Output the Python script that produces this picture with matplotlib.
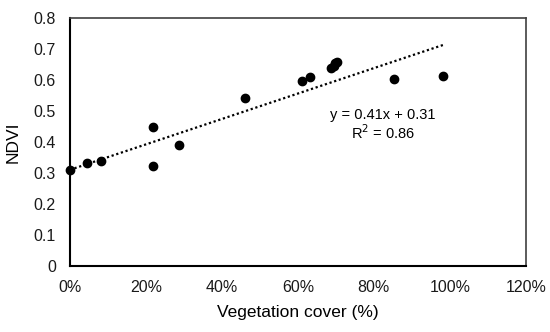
import numpy as np
import matplotlib.pyplot as plt
from matplotlib.ticker import PercentFormatter

plt.rcParams['font.family'] = ['Liberation Sans', 'DejaVu Sans']

# vegetation cover (fraction) and NDVI for each site
cover = [0.0, 0.045, 0.082, 0.22, 0.22, 0.287, 0.46, 0.612, 0.632,
         0.687, 0.694, 0.697, 0.703, 0.853, 0.982]
ndvi = [0.31, 0.332, 0.34, 0.448, 0.323, 0.39, 0.542, 0.595, 0.608,
        0.64, 0.644, 0.654, 0.657, 0.604, 0.613]

# linear trend as reported on the chart
slope, intercept, r2 = 0.41, 0.31, 0.86

fig = plt.figure(figsize=(5.5, 3.32), dpi=100)
ax = fig.add_axes([0.127, 0.199, 0.829, 0.747])

ax.scatter(cover, ndvi, s=36, color='black', zorder=3, clip_on=False)

# dotted trendline over the range of the data
xt = np.array([min(cover), max(cover)])
ax.plot(xt, slope * xt + intercept, color='black', lw=1.6,
        linestyle=(0, (1, 1.2)), zorder=2)

ax.text(0.824, 0.487, f'y = {slope}x + {intercept}', ha='center', va='center', fontsize=10.5)
ax.text(0.824, 0.429, f'R$^2$ = {r2}', ha='center', va='center', fontsize=10.5)

ax.set_xlim(0, 1.2)
ax.set_ylim(0, 0.8)
ax.set_xticks(np.arange(0, 1.21, 0.2))
ax.set_yticks(np.arange(0, 0.81, 0.1))
ax.xaxis.set_major_formatter(PercentFormatter(1.0, decimals=0))
ax.set_yticklabels(['0'] + [f'{v:.1f}' for v in np.arange(0.1, 0.81, 0.1)])
ax.tick_params(length=0, labelsize=11.5, colors='#1a1a1a')
ax.tick_params(axis='y', pad=10)
ax.tick_params(axis='x', pad=10)

for side in ['top', 'right']:
    ax.spines[side].set_color('#404040')
    ax.spines[side].set_linewidth(1.2)
for side in ['left', 'bottom']:
    ax.spines[side].set_color('black')
    ax.spines[side].set_linewidth(1.5)

ax.set_xlabel('Vegetation cover (%)', fontsize=12.5, labelpad=7)
ax.set_ylabel('NDVI', fontsize=12.5, labelpad=9)

fig.savefig('out.png', dpi=100)
